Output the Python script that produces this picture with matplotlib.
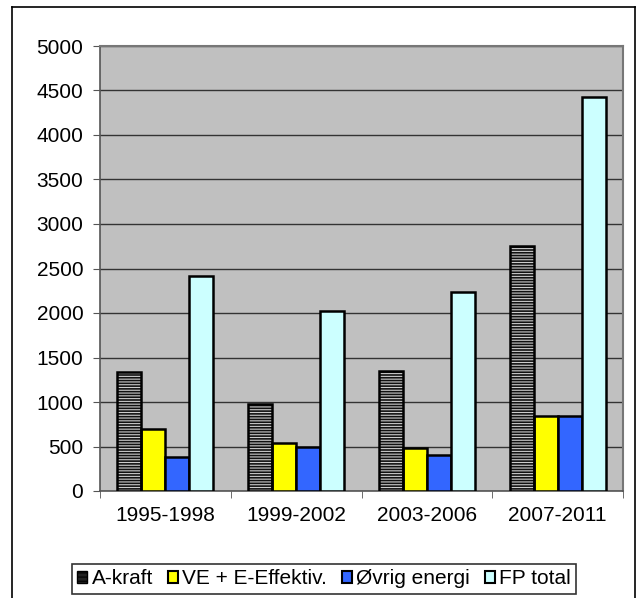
import numpy as np
import matplotlib.pyplot as plt
from matplotlib.patches import Patch
from matplotlib.lines import Line2D

plt.rcParams['font.family'] = ['Liberation Sans', 'DejaVu Sans']
plt.rcParams['hatch.linewidth'] = 0.8

# DATA
periods = ["1995-1998", "1999-2002", "2003-2006", "2007-2011"]
a_kraft = [1340, 980, 1350, 2750]
ve_eff = [700, 540, 480, 840]
ovrig = [380, 500, 400, 840]
fp_total = [2415, 2020, 2240, 4430]

series = ["A-kraft", "VE + E-Effektiv.", "Øvrig energi", "FP total"]
colors = ["#111111", "#ffff00", "#3366ff", "#ccffff"]

fig = plt.figure(figsize=(6.43, 5.98), dpi=100)
ax = fig.add_axes([100 / 643, 1 - 491 / 598, 523 / 643, 445 / 598])
ax.set_facecolor("#c0c0c0")

x = np.arange(len(periods))
w = 0.184
offsets = [-1.5 * w, -0.5 * w, 0.5 * w, 1.5 * w]
values = [a_kraft, ve_eff, ovrig, fp_total]

for i, (vals, col) in enumerate(zip(values, colors)):
    if i == 0:
        # striped bars: dark fill with light horizontal lines
        ax.bar(x + offsets[i], vals, w, color=col, edgecolor="#cccccc",
               hatch="------", linewidth=0, zorder=3)
        ax.bar(x + offsets[i], vals, w, fill=False, edgecolor="black",
               linewidth=1.8, zorder=4)
    else:
        ax.bar(x + offsets[i], vals, w, color=col, edgecolor="black",
               linewidth=1.8, zorder=3)

ax.set_ylim(0, 5000)
ax.set_xlim(-0.5, len(periods) - 0.5)
ax.set_yticks(range(0, 5001, 500))
ax.yaxis.grid(True, color="#333333", linewidth=1)
ax.set_axisbelow(True)

ax.set_xticks(x)
ax.set_xticklabels(periods, fontsize=15)
ax.tick_params(axis="x", length=0, pad=11)
ax.set_xticks(np.arange(-0.5, len(periods)), minor=True)
ax.tick_params(axis="x", which="minor", length=5, color="#555555")
ax.tick_params(axis="y", labelsize=15, length=5, color="#555555", pad=7)

for s in ["left", "bottom"]:
    ax.spines[s].set_color("#555555")
    ax.spines[s].set_linewidth(1.2)
for s in ["top", "right"]:
    ax.spines[s].set_color("#777777")
    ax.spines[s].set_linewidth(1.5)

# outer chart frame
fig.add_artist(Line2D([12 / 643, 12 / 643], [0, 1 - 7 / 598], color="black", lw=1.2))
fig.add_artist(Line2D([12 / 643, 635 / 643], [1 - 7 / 598, 1 - 7 / 598], color="black", lw=1.2))
fig.add_artist(Line2D([635 / 643, 635 / 643], [0, 1 - 7 / 598], color="black", lw=1.2))

handles = [Patch(facecolor="#222222", edgecolor="black", hatch="----")] + \
          [Patch(facecolor=c, edgecolor="black", linewidth=1.5) for c in colors[1:]]
leg = fig.legend(handles, series, loc="center", bbox_to_anchor=(324 / 643, 1 - 579 / 598),
                 ncol=4, fontsize=15, frameon=True, fancybox=False, edgecolor="black",
                 handlelength=0.5, handleheight=0.5, handletextpad=0.2, columnspacing=0.7,
                 borderpad=0.25, borderaxespad=0)
leg.get_frame().set_linewidth(1.2)

fig.savefig("out.png", dpi=100)
